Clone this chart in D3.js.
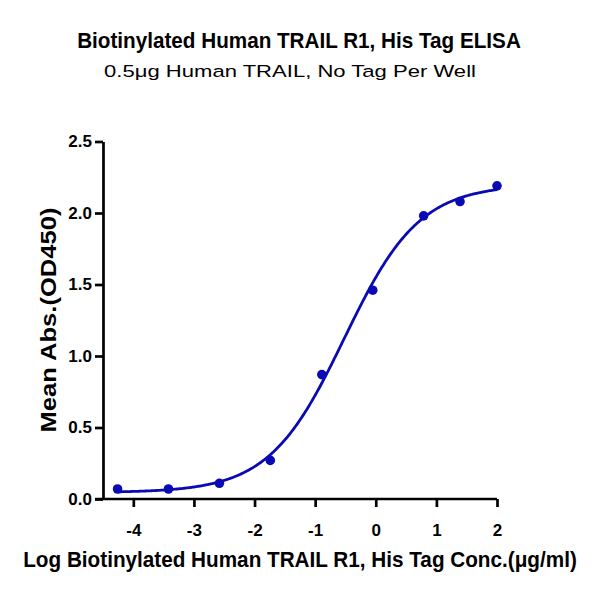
<!DOCTYPE html>
<html lang="en">
<head>
  <meta charset="utf-8" />
  <title>TRAIL R1 ELISA</title>
  <script src="https://cdn.jsdelivr.net/npm/d3@7"></script>
  <style>
body{ margin:0; background:#fff; }
svg text{ font-family: "Liberation Sans", Arial, sans-serif; fill:#000; }
  </style>
</head>
<body>
  <svg id="chart"></svg>
  <script>
  // measured points (log conc, mean OD450)
  const logConc = [-4.26, -3.42, -2.58, -1.74, -0.89, -0.05, 0.79, 1.39, 2.0];
  const meanAbs = [0.07, 0.07, 0.11, 0.27, 0.87, 1.46, 1.98, 2.08, 2.19];
  // 4PL fit: bottom, top, logEC50, hill
  const fitParams = [0.045, 2.2, -0.52, 0.7];
  const xTicks = [-4, -3, -2, -1, 0, 1, 2];
  const yTicks = [0, 0.5, 1.0, 1.5, 2.0, 2.5];

  const width = 600, height = 600;
  const svg = d3.select('#chart').attr('width', width).attr('height', height);

  const x = d3.scaleLinear().domain([-4.5, 2]).range([103, 497]);
  const y = d3.scaleLinear().domain([0, 2.5]).range([499, 141.5]);
  const blue = '#0a0ab4';

  // axes
  const xAxis = svg.append('g')
      .attr('transform', `translate(0,${y(0)})`)
      .call(d3.axisBottom(x).tickValues(xTicks).tickFormat(d => String(d)).tickSize(8).tickSizeOuter(0));
  xAxis.select('.domain').attr('d', `M${x.range()[0] - 8},0H${x.range()[1]}`);
  xAxis.selectAll('.tick text').attr('y', 37).attr('dy', null);

  const yAxis = svg.append('g')
      .attr('transform', `translate(${x(-4.5)},0)`)
      .call(d3.axisLeft(y).tickValues(yTicks).tickFormat(d3.format('.1f')).tickSize(8).tickSizeOuter(0).tickPadding(3));

  svg.selectAll('.domain, .tick line').attr('stroke', '#000').attr('stroke-width', 2.7);
  svg.selectAll('.tick text').attr('font-size', 17).attr('font-weight', 'bold').attr('fill', '#000');

  // fitted curve
  const [fitBot, fitTop, ec50, hill] = fitParams;
  const curveX = d3.range(x.domain()[0] + 0.24, 2.0001, 0.02);
  const line = d3.line()
      .x(d => x(d))
      .y(d => y(fitBot + (fitTop - fitBot) / (1 + Math.pow(10, (ec50 - d) * hill))))
      .curve(d3.curveBasis);

  svg.append('path')
      .datum(curveX)
      .attr('fill', 'none')
      .attr('stroke', blue)
      .attr('stroke-width', 2.8)
      .attr('d', line);

  svg.append('g').selectAll('circle')
      .data(logConc)
    .enter().append('circle')
      .attr('cx', d => x(d))
      .attr('cy', (d, i) => y(meanAbs[i]))
      .attr('r', 4.8)
      .attr('fill', blue);

  // squeeze a label horizontally to the width it has in the picture
  function label(txt, cx, cy, size, bold, w, rot){
    const g = svg.append('g').attr('transform', `translate(${cx},${cy}) rotate(${rot || 0})`);
    const t = g.append('text')
        .attr('text-anchor', 'middle')
        .attr('font-size', size)
        .attr('font-weight', bold ? 'bold' : 'normal')
        .text(txt);
    const k = w / t.node().getComputedTextLength();
    t.attr('transform', `scale(${k},1)`);
  }

  label('Biotinylated Human TRAIL R1, His Tag ELISA', 299, 48, 21.5, true, 444);
  label('0.5μg Human TRAIL, No Tag Per Well', 290, 77, 17, false, 372);
  label('Log Biotinylated Human TRAIL R1, His Tag Conc.(μg/ml)', 300, 567, 22.5, true, 554);
  label('Mean Abs.(OD450)', 56, 320, 21.5, true, 225, -90);
  </script>
</body>
</html>
